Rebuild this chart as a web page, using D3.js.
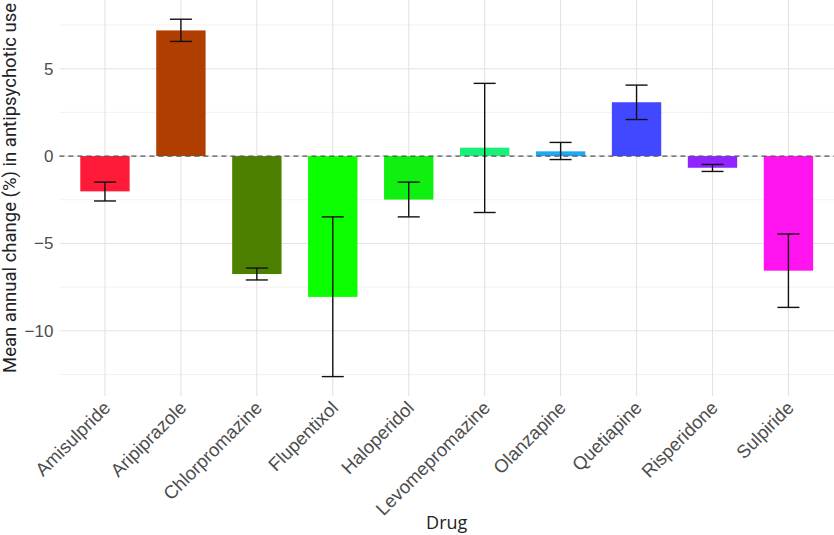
<!DOCTYPE html>
<html>
<head>
<meta charset="utf-8">
<script src="https://cdn.jsdelivr.net/npm/d3@7"></script>
<style>
  body { margin: 0; background: #fff; }
  svg { display: block; font-family: Roboto, "Liberation Sans", sans-serif; }
</style>
</head>
<body>
<svg id="chart" width="834" height="535"></svg>
<script>
// data
const drugs = ['Amisulpride', 'Aripiprazole', 'Chlorpromazine', 'Flupentixol', 'Haloperidol',
               'Levomepromazine', 'Olanzapine', 'Quetiapine', 'Risperidone', 'Sulpiride']
const meanChange = [-2.02, 7.19, -6.75, -8.06, -2.49, 0.48, 0.27, 3.08, -0.67, -6.56]
const ciLow  = [-2.57, 6.56, -7.09, -12.62, -3.48, -3.23, -0.20, 2.09, -0.88, -8.66]
const ciHigh = [-1.49, 7.83, -6.41, -3.48, -1.49, 4.16, 0.78, 4.06, -0.48, -4.46]
const barColors = ['#ff1a3a', '#b03e00', '#4e8000', '#0cff00', '#10f010',
                   '#18f07a', '#1eaaf0', '#4248ff', '#9222ff', '#ff14f0']
const yTicks = [-10, -5, 0, 5]
const yMinor = [-12.5, -7.5, -2.5, 2.5, 7.5]

const rows = drugs.map((d, i) => ({ drug: d, mean: meanChange[i], lo: ciLow[i], hi: ciHigh[i], color: barColors[i] }))

const margin = { left: 59.4, right: 0, top: 0, bottom: 139 }
const width = 834, height = 535
const svg = d3.select('#chart')

const xscale = d3.scalePoint()
    .domain(drugs)
    .range([margin.left, width - margin.right])
    .padding(0.6)

const yscale = d3.scaleLinear()
    .domain([-13.73, 8.93])
    .range([height - margin.bottom, margin.top])

const barW = xscale.step() * 0.65
const capW = 22

// grid lines
svg.append('g').selectAll('line.minor')
    .data(yMinor)
    .join('line')
    .attr('x1', margin.left).attr('x2', width - margin.right)
    .attr('y1', d => yscale(d)).attr('y2', d => yscale(d))
    .attr('stroke', '#efefef').attr('stroke-width', 0.8)

svg.append('g').selectAll('line.major')
    .data(yTicks)
    .join('line')
    .attr('x1', margin.left).attr('x2', width - margin.right)
    .attr('y1', d => yscale(d)).attr('y2', d => yscale(d))
    .attr('stroke', '#e3e3e3').attr('stroke-width', 1.1)

svg.append('g').selectAll('line.vgrid')
    .data(drugs)
    .join('line')
    .attr('x1', d => xscale(d)).attr('x2', d => xscale(d))
    .attr('y1', yscale.range()[0]).attr('y2', yscale.range()[1])
    .attr('stroke', '#e3e3e3').attr('stroke-width', 1.1)

// bars
svg.append('g').selectAll('rect')
    .data(rows)
    .join('rect')
    .attr('x', d => xscale(d.drug) - barW / 2)
    .attr('width', barW)
    .attr('y', d => yscale(Math.max(0, d.mean)))
    .attr('height', d => Math.abs(yscale(d.mean) - yscale(0)))
    .attr('fill', d => d.color)

// zero line
svg.append('line')
    .attr('x1', margin.left).attr('x2', width - margin.right)
    .attr('y1', yscale(0)).attr('y2', yscale(0))
    .attr('stroke', '#555').attr('stroke-width', 1.3)
    .attr('stroke-dasharray', '5,4')

// error bars
const err = svg.append('g').attr('stroke', '#111').attr('stroke-width', 1.4)
rows.forEach(d => {
    const x = xscale(d.drug)
    err.append('line').attr('x1', x).attr('x2', x).attr('y1', yscale(d.lo)).attr('y2', yscale(d.hi))
    err.append('line').attr('x1', x - capW / 2).attr('x2', x + capW / 2).attr('y1', yscale(d.lo)).attr('y2', yscale(d.lo))
    err.append('line').attr('x1', x - capW / 2).attr('x2', x + capW / 2).attr('y1', yscale(d.hi)).attr('y2', yscale(d.hi))
})

// y axis
const yAxis = d3.axisLeft(yscale)
    .tickValues(yTicks)
    .tickSize(0)
    .tickPadding(6)
    .tickFormat(d => d < 0 ? '\u2212' + Math.abs(d) : d)

svg.append('g')
    .attr('transform', `translate(${margin.left})`)
    .call(yAxis)
    .call(g => g.select('.domain').remove())
    .selectAll('text')
    .attr('fill', '#4d4d4d')
    .style('font-size', '17px')

// x axis
const xAxis = d3.axisBottom(xscale).tickSize(0).tickPadding(0)
svg.append('g')
    .attr('transform', `translate(0, ${yscale.range()[0]})`)
    .call(xAxis)
    .call(g => g.select('.domain').remove())
    .selectAll('text')
    .attr('fill', '#4d4d4d')
    .style('font-size', '18.5px')
    .attr('text-anchor', 'end')
    .attr('dy', null)
    .attr('y', 0)
    .attr('transform', 'translate(6, 13) rotate(-45)')

// titles
svg.append('text')
    .text('Mean annual change (%) in antipsychotic use')
    .attr('transform', `translate(16, ${yscale.range()[0] / 2 - 10}) rotate(-90)`)
    .attr('text-anchor', 'middle')
    .attr('fill', '#222')
    .style('font-size', '18.5px')

svg.append('text')
    .text('Drug')
    .attr('x', (margin.left + width) / 2)
    .attr('y', 529)
    .attr('text-anchor', 'middle')
    .attr('fill', '#222')
    .style('font-family', '"Open Sans", sans-serif')
    .style('font-size', '18px')
</script>
</body>
</html>
